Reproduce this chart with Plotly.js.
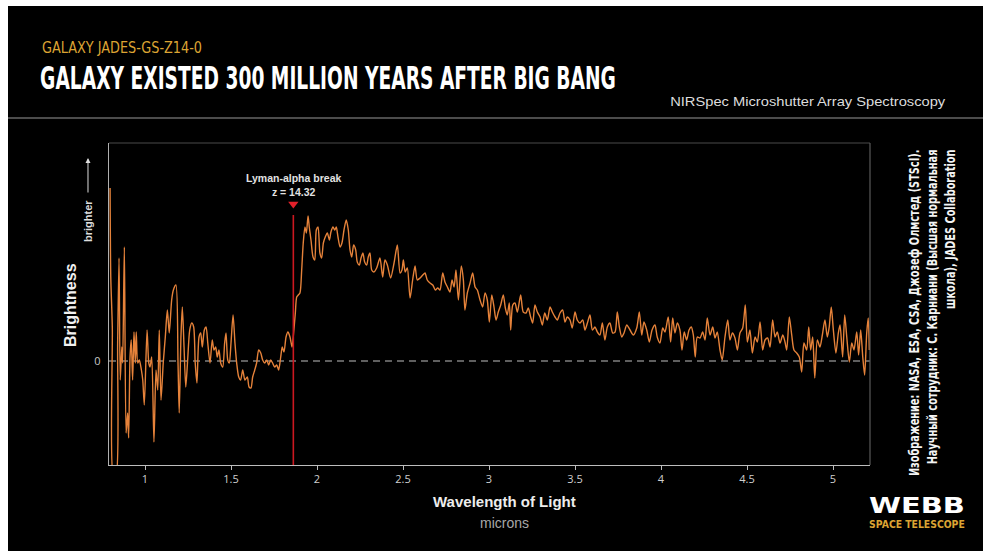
<!DOCTYPE html>
<html>
<head>
<meta charset="utf-8">
<script src="https://cdn.plot.ly/plotly-3.0.1.min.js"></script>
<style>
  html, body { margin: 0; padding: 0; background: #ffffff; }
  #chart { position: absolute; left: 8px; top: 6px; width: 975px; height: 545px; }
</style>
</head>
<body>
<div id="chart"></div>
<script>
// NIRSpec prism spectrum of JADES-GS-z14-0 (wavelength in microns, brightness in arbitrary units)
const wavelength = [
  0.797,0.801,0.810,0.816,0.831,0.841,0.849,0.856,0.865,0.870,
  0.880,0.890,0.899,0.905,0.913,0.920,0.928,0.936,0.944,0.949,
  0.958,0.967,0.979,0.987,0.996,1.012,1.022,1.029,1.039,1.052,
  1.064,1.074,1.083,1.093,1.106,1.118,1.130,1.141,1.155,1.165,
  1.180,1.192,1.199,1.209,1.217,1.227,1.237,1.248,1.260,1.272,
  1.283,1.292,1.302,1.314,1.324,1.333,1.345,1.355,1.365,1.378,
  1.391,1.401,1.411,1.420,1.430,1.440,1.452,1.463,1.471,1.481,
  1.490,1.500,1.512,1.523,1.533,1.545,1.556,1.568,1.581,1.595,
  1.605,1.616,1.626,1.638,1.649,1.661,1.673,1.684,1.696,1.708,
  1.719,1.731,1.742,1.754,1.766,1.777,1.789,1.798,1.808,1.820,
  1.831,1.843,1.855,1.862,1.874,1.882,1.891,1.901,1.911,1.920,
  1.930,1.938,1.948,1.955,1.965,1.977,1.987,1.996,2.006,2.017,
  2.027,2.037,2.048,2.060,2.072,2.081,2.093,2.103,2.112,2.122,
  2.134,2.145,2.157,2.170,2.182,2.192,2.202,2.213,2.225,2.234,
  2.246,2.256,2.267,2.277,2.289,2.298,
  2.308,2.318,2.331,2.347,2.366,2.382,2.395,2.409,2.428,2.448,
  2.467,2.483,2.494,2.502,2.513,2.525,2.541,2.556,2.570,2.583,
  2.599,2.615,2.628,2.641,2.657,2.673,2.688,2.702,2.715,2.731,
  2.744,2.758,2.773,2.785,2.797,2.808,2.822,2.839,2.851,2.860,
  2.874,2.890,2.905,2.919,2.932,2.948,2.963,2.977,2.990,3.002,
  3.016,3.029,3.041,3.054,3.068,3.083,3.095,3.106,3.118,3.126,
  3.138,3.151,3.165,3.184,3.199,3.215,3.228,3.242,3.254,3.267,
  3.281,3.297,3.310,3.324,3.339,3.355,3.368,3.384,3.397,3.413,
  3.428,3.442,3.455,3.471,3.484,3.500,3.513,3.529,3.545,3.558,
  3.572,3.587,3.601,3.616,3.630,3.645,3.659,3.674,3.688,3.703,
  3.719,3.733,3.746,3.758,
  3.772,3.785,3.801,3.820,3.839,3.859,3.874,3.888,3.901,3.917,
  3.932,3.948,3.965,3.978,3.994,4.010,4.023,4.042,4.056,4.068,
  4.081,4.095,4.110,4.122,4.135,4.149,4.163,4.176,4.188,4.199,
  4.211,4.227,4.242,4.256,4.269,4.285,4.301,4.314,4.327,4.343,
  4.356,4.372,4.388,4.401,4.415,4.430,4.444,4.459,4.475,4.490,
  4.502,4.517,4.531,4.547,4.560,4.576,4.591,4.605,4.620,4.634,
  4.649,4.663,4.676,4.692,4.708,4.721,4.731,4.746,4.760,4.773,
  4.789,4.804,4.818,4.831,4.847,4.859,4.870,4.882,4.894,4.909,
  4.924,4.938,4.953,4.967,4.978,4.990,5.002,5.017,5.031,5.041,
  5.056,5.068,5.080,5.095,5.109,5.122,5.138,5.149,5.161,5.173,
  5.184,5.196,5.205,5.211
];

const brightness = [
  17.3,8.4,3.3,-11.5,-11.5,1.8,10.3,-1.9,1.4,-0.2,
  11.4,-7.2,-5.2,-7.7,0.4,2.1,-1.9,2.9,-0.2,2.9,
  -0.2,0.1,-0.9,-1.9,-4.4,3.1,-0.2,-0.6,0.4,-8.1,
  -0.9,-2.9,3.1,-3.9,-0.2,2.4,5.1,2.8,6.1,7.1,
  7.6,-0.2,-5.2,2.4,5.4,1.4,-2.6,0.1,3.1,3.8,
  3.4,-0.2,-2.2,2.4,2.8,1.4,3.1,3.4,1.8,-0.2,
  2.1,1.1,1.4,0.4,1.1,-0.2,-0.6,1.8,2.8,0.1,
  -0.2,1.8,4.6,1.8,-0.2,-1.6,-1.9,-0.9,-1.9,-1.6,
  -2.6,-2.7,-1.6,-0.9,-0.2,1.1,0.8,0.1,-0.2,0.1,
  -0.4,0.1,-0.2,-0.6,-0.4,-0.9,0.4,1.4,0.9,2.4,
  2.9,2.4,1.4,2.4,4.8,6.4,6.6,6.8,9.1,11.8,
  13.4,12.8,14.5,13.4,12.1,10.4,10.1,13.1,13.4,10.8,
  10.3,11.8,12.4,12.8,12.1,12.9,13.4,13.1,13.4,12.4,
  11.4,11.8,13.1,14.1,13.1,11.1,10.4,11.6,11.1,9.9,
  9.6,10.3,10.8,9.9,9.6,10.4,
  10.8,9.1,8.9,9.3,10.3,8.4,10.1,9.6,8.3,9.8,
  11.6,8.8,9.1,10.1,8.9,9.3,6.3,8.1,9.5,8.1,
  8.3,8.6,8.8,8.1,7.8,7.6,7.1,7.3,7.1,8.8,
  7.9,7.4,6.9,8.1,7.4,9.1,6.1,9.5,8.1,5.1,
  6.8,7.8,8.8,7.4,7.1,6.1,5.4,6.8,6.1,3.9,
  6.6,5.4,4.1,4.9,5.6,6.6,5.3,4.6,5.8,3.1,
  5.6,5.8,4.9,6.6,4.9,4.8,5.3,4.4,3.8,5.6,
  4.9,4.4,3.6,4.8,4.1,5.4,4.9,4.4,4.1,4.8,
  5.1,3.9,4.4,4.1,3.3,4.9,4.1,3.8,4.1,3.1,
  3.8,4.6,3.1,3.4,2.9,2.6,3.8,2.1,3.4,3.8,
  2.8,2.9,4.9,3.4,
  2.4,2.8,3.6,3.1,2.6,3.3,4.9,2.6,3.9,3.1,
  1.9,3.1,3.6,2.4,1.8,3.3,2.9,4.4,1.9,4.3,
  2.8,3.8,3.1,1.1,2.9,2.1,3.1,3.4,2.6,0.4,
  2.4,2.3,2.9,2.1,4.3,2.6,3.4,2.3,2.9,1.1,
  0.1,2.4,4.1,2.1,2.8,2.3,1.1,2.8,3.3,5.6,
  1.9,3.1,0.8,2.4,1.9,3.9,1.1,2.1,2.3,1.4,
  4.1,2.4,2.9,1.8,2.6,1.9,1.1,4.4,2.6,1.1,
  0.8,0.4,-1.1,1.8,1.1,3.4,1.1,2.4,-1.7,2.1,
  1.4,2.6,4.1,2.4,3.4,5.4,3.1,0.8,2.8,3.6,
  0.4,4.6,2.4,-0.1,1.8,1.1,2.9,0.6,3.1,0.4,
  -1.4,2.8,4.3,1.1
];

// x-axis ticks
const tickVals = [1, 1.5, 2, 2.5, 3, 3.5, 4, 4.5, 5];
const tickText = ['1', '1.5', '2', '2.5', '3', '3.5', '4', '4.5', '5'];

// Lyman-alpha break position from the redshift
const redshift = 14.32;
const lymanAlphaRest = 0.121567;               // microns
const breakWavelength = lymanAlphaRest * (1 + redshift);
const breakLineTop = 14.6;                     // brightness level where the marker line ends
const breakMarkerLevel = 15.7;

const xRange = [0.7907, 5.2151];
const yRange = [-10.4, 21.8];

const condensed = '"DejaVu Sans Condensed", "Liberation Sans Narrow", "DejaVu Sans", sans-serif';
const helv = '"Liberation Sans", Arial, sans-serif';

const traces = [
  {
    x: wavelength, y: brightness, type: 'scatter', mode: 'lines',
    line: { color: '#e5823a', width: 1.4, shape: 'spline', smoothing: 0.7 },
    hoverinfo: 'skip'
  },
  {
    x: [breakWavelength], y: [breakMarkerLevel], type: 'scatter', mode: 'markers',
    marker: { symbol: 'triangle-down', size: 9, color: '#e3202a' },
    hoverinfo: 'skip'
  }
];

const layout = {
  width: 975, height: 545,
  margin: { l: 101, r: 113, t: 137, b: 86 },
  paper_bgcolor: '#000000', plot_bgcolor: '#000000',
  showlegend: false,
  xaxis: {
    range: xRange, tickvals: tickVals, ticktext: tickText,
    ticks: 'outside', ticklen: 4, tickwidth: 1, tickcolor: '#bdbdbd',
    showline: true, linecolor: '#bdbdbd', linewidth: 1.2,
    showgrid: false, zeroline: false,
    tickfont: { family: '"Open Sans", sans-serif', size: 11, color: '#cfcfcf' }
  },
  yaxis: {
    range: yRange, tickvals: [0], ticktext: ['0'],
    ticks: '', showline: true, linecolor: '#b0b0b0', linewidth: 1.2,
    showgrid: false, zeroline: false, ticklabelstandoff: 5,
    tickfont: { family: '"Open Sans", sans-serif', size: 11, color: '#c8c8c8' }
  },
  shapes: [
    // header separator
    { type: 'line', xref: 'paper', yref: 'paper', x0: -0.1327, x1: 1.1485, y0: 1.0776, y1: 1.0776,
      line: { color: '#4c4c4c', width: 2 } },
    // frame top and right
    { type: 'line', xref: 'paper', yref: 'paper', x0: 0, x1: 1, y0: 1, y1: 1,
      line: { color: '#4a4a4a', width: 1.2 } },
    { type: 'line', xref: 'paper', yref: 'paper', x0: 1, x1: 1, y0: 0, y1: 1,
      line: { color: '#5a5a5a', width: 1.2 } },
    // zero level
    { type: 'line', xref: 'paper', yref: 'y', x0: 0, x1: 1, y0: 0, y1: 0, layer: 'below',
      line: { color: '#bdbdbd', width: 1.2, dash: '7px,5px' } },
    // Lyman-alpha break
    { type: 'line', xref: 'x', yref: 'y', x0: breakWavelength, x1: breakWavelength,
      y0: yRange[0], y1: breakLineTop, line: { color: '#cc1820', width: 1.6 } }
  ],
  annotations: [
    { xref: 'paper', yref: 'paper', x: -0.0907, y: 1.2981, xanchor: 'left', yanchor: 'middle',
      text: 'GALAXY JADES-GS-Z14-0', showarrow: false,
      font: { family: condensed, size: 16, color: '#dca433' } },
    { xref: 'paper', yref: 'paper', x: -0.0933, y: 1.2019, xanchor: 'left', yanchor: 'middle',
      text: '<b>GALAXY EXISTED 300 MILLION YEARS AFTER BIG BANG</b>', showarrow: false,
      font: { family: condensed, size: 32, color: '#ffffff' } },
    { xref: 'paper', yref: 'paper', x: 1.1025, y: 1.1304, xanchor: 'right', yanchor: 'middle',
      text: 'NIRSpec Microshutter Array Spectroscopy', showarrow: false,
      font: { family: helv, size: 13, color: '#dcdcdc' } },
    { xref: 'paper', yref: 'paper', x: 1.0815, y: 0.9845, xanchor: 'center', yanchor: 'top',
      textangle: -90, align: 'right', showarrow: false,
      text: '<b>Изображение: NASA, ESA, CSA, Джозеф Олмстед (STScI).<br>Научный сотрудник: С. Карниани (Высшая нормальная<br>школа), JADES Collaboration</b>',
      font: { family: condensed, size: 14, color: '#f4f4f4' } },
    { xref: 'paper', yref: 'paper', x: 0.9961, y: -0.1264, xanchor: 'left', yanchor: 'middle',
      text: '<b>WEBB</b>', showarrow: false,
      font: { family: '"DejaVu Sans", sans-serif', size: 21, color: '#ffffff' } },
    { xref: 'paper', yref: 'paper', x: 0.9961, y: -0.1848, xanchor: 'left', yanchor: 'middle',
      text: '<b>SPACE TELESCOPE</b>', showarrow: false,
      font: { family: '"DejaVu Sans", sans-serif', size: 10, color: '#dca433' } },
    { xref: 'paper', yref: 'paper', x: 0.5191, y: -0.1149, xanchor: 'center', yanchor: 'middle',
      text: '<b>Wavelength of Light</b>', showarrow: false,
      font: { family: helv, size: 15, color: '#ededed' } },
    { xref: 'paper', yref: 'paper', x: 0.5191, y: -0.1801, xanchor: 'center', yanchor: 'middle',
      text: 'microns', showarrow: false,
      font: { family: helv, size: 14, color: '#a8a8a8' } },
    { xref: 'paper', yref: 'paper', x: -0.0499, y: 0.4969, xanchor: 'center', yanchor: 'middle',
      text: '<b>Brightness</b>', textangle: -90, showarrow: false,
      font: { family: helv, size: 16, color: '#f0f0f0' } },
    { xref: 'paper', yref: 'paper', x: -0.0276, y: 0.7578, xanchor: 'center', yanchor: 'middle',
      text: '<b>brighter</b>', textangle: -90, showarrow: false,
      font: { family: helv, size: 11, color: '#dddddd' } },
    { xref: 'paper', yref: 'paper', x: -0.0276, y: 0.9534, text: '', showarrow: true,
      ax: 0, ay: 36, arrowhead: 2, arrowsize: 1, arrowwidth: 1, arrowcolor: '#dddddd' },
    { xref: 'x', yref: 'paper', x: breakWavelength, y: 0.8696, xanchor: 'center', yanchor: 'middle',
      text: '<b>Lyman-alpha break<br>z = ' + redshift.toFixed(2) + '</b>', showarrow: false,
      font: { family: helv, size: 10.5, color: '#e2e2e2' } }
  ]
};

// squeeze or stretch an annotation's text along its baseline to a given length
function fitAnnotation(gd, index, width, anchor) {
  const g = gd.querySelector('.annotation[data-index="' + index + '"]');
  if (!g) return;
  const t = g.querySelector('text.annotation-text');
  if (!t) return;
  const bb = t.getBBox();
  if (!bb.width) return;
  const s = width / bb.width;
  const x0 = anchor === 'left' ? bb.x : anchor === 'right' ? bb.x + bb.width : bb.x + bb.width / 2;
  t.setAttribute('transform', 'translate(' + (x0 * (1 - s)) + ',0) scale(' + s + ',1)');
}

Plotly.newPlot('chart', traces, layout, { displayModeBar: false, staticPlot: true }).then(function (gd) {
  fitAnnotation(gd, 0, 160, 'left');
  fitAnnotation(gd, 1, 576, 'left');
  fitAnnotation(gd, 2, 276, 'right');
  fitAnnotation(gd, 3, 327, 'right');
  fitAnnotation(gd, 4, 96, 'left');
  fitAnnotation(gd, 5, 96, 'left');
});
</script>
</body>
</html>
